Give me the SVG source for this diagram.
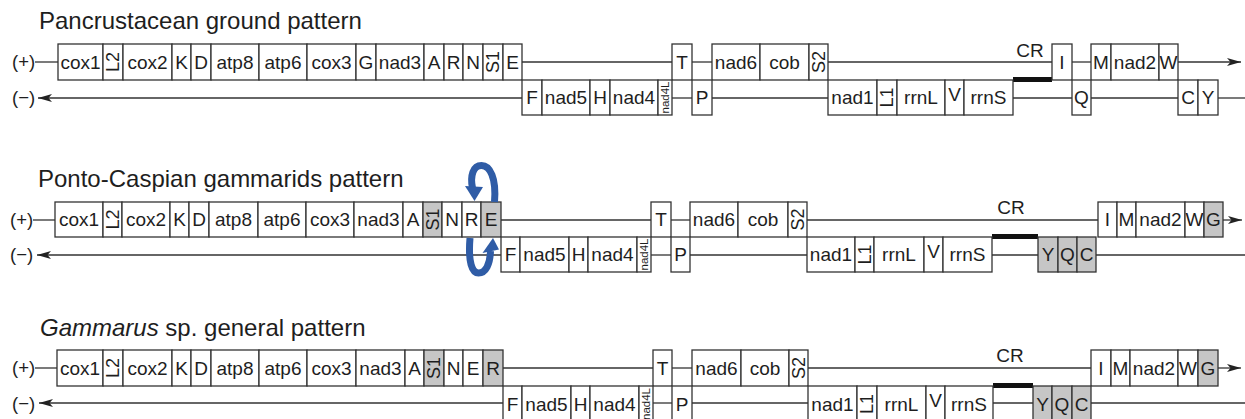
<svg xmlns="http://www.w3.org/2000/svg" width="1245" height="419" viewBox="0 0 1245 419">
<style>
.box{fill:#fff;stroke:#333;stroke-width:1.3}
.gray{fill:#c6c6c6}
.t{font-family:"Liberation Sans",Arial,sans-serif;font-size:19px;fill:#1e1e1e;text-anchor:middle}
.rot{font-size:18px}
.tiny{font-size:11.5px}
.title{font-family:"Liberation Sans",Arial,sans-serif;font-size:24px;fill:#1e1e1e}
.strand{font-family:"Liberation Sans",Arial,sans-serif;font-size:18.5px;fill:#1e1e1e}
.ln{stroke:#333;stroke-width:1.3;fill:none}
.arr{marker-end:url(#ah)}
.cr{stroke:#111;stroke-width:5;fill:none}
.blue{stroke:#2f5ca6;stroke-width:7;fill:none}
.bluehead{fill:#2f5ca6}
</style>
<defs>
<marker id="ah" markerUnits="userSpaceOnUse" markerWidth="15" markerHeight="10" refX="14" refY="5" orient="auto">
<path d="M0,1 L14,5 L0,9 L3.5,5 z" fill="#222"/>
</marker>
</defs>

<!-- Titles -->
<text class="title" x="39" y="29">Pancrustacean ground pattern</text>
<text class="title" x="38" y="187">Ponto-Caspian gammarids pattern</text>
<text class="title" x="40" y="336"><tspan font-style="italic">Gammarus</tspan> sp. general pattern</text>

<!-- Strand labels -->
<g id="strand-labels">
<text class="strand" x="12" y="68">(+)</text>
<text class="strand" x="12" y="104">(−)</text>
<text class="strand" x="10" y="226">(+)</text>
<text class="strand" x="10" y="261">(−)</text>
<text class="strand" x="12" y="374">(+)</text>
<text class="strand" x="12" y="410">(−)</text>
</g>

<!-- Connectors -->
<g id="connectors">
<!-- row 1 -->
<line class="ln" x1="35" y1="62" x2="58" y2="62"/>
<line class="ln" x1="522" y1="62" x2="672" y2="62"/>
<line class="ln" x1="692" y1="62" x2="712" y2="62"/>
<line class="ln" x1="828" y1="62" x2="1052" y2="62"/>
<line class="ln" x1="1072" y1="62" x2="1091" y2="62"/>
<line class="ln arr" x1="1178" y1="62" x2="1241" y2="62"/>
<line class="ln arr" x1="522" y1="98" x2="38" y2="98"/>
<line class="ln" x1="672" y1="98" x2="692" y2="98"/>
<line class="ln" x1="712" y1="98" x2="828" y2="98"/>
<line class="ln" x1="1013" y1="98" x2="1072" y2="98"/>
<line class="ln" x1="1091" y1="98" x2="1178" y2="98"/>
<line class="ln" x1="1218" y1="98" x2="1245" y2="98"/>
<line class="cr" x1="1013" y1="79.5" x2="1052" y2="79.5"/>
<!-- row 2 -->
<line class="ln" x1="33" y1="220" x2="55" y2="220"/>
<line class="ln" x1="501" y1="220" x2="651" y2="220"/>
<line class="ln" x1="671" y1="220" x2="690" y2="220"/>
<line class="ln" x1="807" y1="220" x2="1098" y2="220"/>
<line class="ln arr" x1="1223" y1="220" x2="1242" y2="220"/>
<line class="ln arr" x1="501" y1="255" x2="37" y2="255"/>
<line class="ln" x1="651" y1="255" x2="671" y2="255"/>
<line class="ln" x1="690" y1="255" x2="807" y2="255"/>
<line class="ln" x1="992" y1="255" x2="1038" y2="255"/>
<line class="ln" x1="1096" y1="255" x2="1245" y2="255"/>
<line class="cr" x1="992" y1="236.5" x2="1038" y2="236.5"/>
<!-- row 3 -->
<line class="ln" x1="35" y1="368" x2="57" y2="368"/>
<line class="ln" x1="503" y1="368" x2="653" y2="368"/>
<line class="ln" x1="672" y1="368" x2="692" y2="368"/>
<line class="ln" x1="808" y1="368" x2="1091" y2="368"/>
<line class="ln arr" x1="1218" y1="368" x2="1241" y2="368"/>
<line class="ln arr" x1="503" y1="403" x2="39" y2="403"/>
<line class="ln" x1="653" y1="403" x2="672" y2="403"/>
<line class="ln" x1="692" y1="403" x2="808" y2="403"/>
<line class="ln" x1="993" y1="403" x2="1033" y2="403"/>
<line class="ln" x1="1091" y1="403" x2="1245" y2="403"/>
<line class="cr" x1="993" y1="385.5" x2="1033" y2="385.5"/>
</g>

<!-- CR labels -->
<text class="t" x="1030" y="57">CR</text>
<text class="t" x="1011" y="214">CR</text>
<text class="t" x="1010" y="362">CR</text>

<!-- Row 1: Pancrustacean ground pattern -->
<g id="row1">
<g id="r1-cox1"><rect class="box" x="58" y="44" width="45" height="36"/><text class="t" x="80.5" y="68.7">cox1</text></g>
<g id="r1-L2"><rect class="box" x="103" y="44" width="20" height="36"/><text class="t rot" transform="translate(113,62) rotate(-90)" dy="0.36em">L2</text></g>
<g id="r1-cox2"><rect class="box" x="123" y="44" width="49" height="36"/><text class="t" x="147.5" y="68.7">cox2</text></g>
<g id="r1-K"><rect class="box" x="172" y="44" width="19" height="36"/><text class="t" x="181.5" y="68.7">K</text></g>
<g id="r1-D"><rect class="box" x="191" y="44" width="20" height="36"/><text class="t" x="201" y="68.7">D</text></g>
<g id="r1-atp8"><rect class="box" x="211" y="44" width="48" height="36"/><text class="t" x="235" y="68.7">atp8</text></g>
<g id="r1-atp6"><rect class="box" x="259" y="44" width="48" height="36"/><text class="t" x="283" y="68.7">atp6</text></g>
<g id="r1-cox3"><rect class="box" x="307" y="44" width="49" height="36"/><text class="t" x="331.5" y="68.7">cox3</text></g>
<g id="r1-G"><rect class="box" x="356" y="44" width="20" height="36"/><text class="t" x="366" y="68.7">G</text></g>
<g id="r1-nad3"><rect class="box" x="376" y="44" width="48" height="36"/><text class="t" x="400" y="68.7">nad3</text></g>
<g id="r1-A"><rect class="box" x="424" y="44" width="20" height="36"/><text class="t" x="434" y="68.7">A</text></g>
<g id="r1-R"><rect class="box" x="444" y="44" width="19" height="36"/><text class="t" x="453.5" y="68.7">R</text></g>
<g id="r1-N"><rect class="box" x="463" y="44" width="20" height="36"/><text class="t" x="473" y="68.7">N</text></g>
<g id="r1-S1"><rect class="box" x="483" y="44" width="20" height="36"/><text class="t rot" transform="translate(493,62) rotate(-90)" dy="0.36em">S1</text></g>
<g id="r1-E"><rect class="box" x="503" y="44" width="19" height="36"/><text class="t" x="512.5" y="68.7">E</text></g>
<g id="r1-T"><rect class="box" x="672" y="44" width="20" height="36"/><text class="t" x="682" y="68.7">T</text></g>
<g id="r1-nad6"><rect class="box" x="712" y="44" width="48" height="36"/><text class="t" x="736" y="68.7">nad6</text></g>
<g id="r1-cob"><rect class="box" x="760" y="44" width="49" height="36"/><text class="t" x="784.5" y="68.7">cob</text></g>
<g id="r1-S2"><rect class="box" x="809" y="44" width="19" height="36"/><text class="t rot" transform="translate(818.5,62) rotate(-90)" dy="0.36em">S2</text></g>
<g id="r1-I"><rect class="box" x="1052" y="44" width="20" height="36"/><text class="t" x="1062" y="68.7">I</text></g>
<g id="r1-M"><rect class="box" x="1091" y="44" width="20" height="36"/><text class="t" x="1101" y="68.7">M</text></g>
<g id="r1-nad2"><rect class="box" x="1111" y="44" width="48" height="36"/><text class="t" x="1135" y="68.7">nad2</text></g>
<g id="r1-W"><rect class="box" x="1159" y="44" width="19" height="36"/><text class="t" x="1168.5" y="68.7">W</text></g>
<g id="r1-F"><rect class="box" x="522" y="80" width="20" height="35"/><text class="t" x="532" y="104.2">F</text></g>
<g id="r1-nad5"><rect class="box" x="542" y="80" width="48" height="35"/><text class="t" x="566" y="104.2">nad5</text></g>
<g id="r1-H"><rect class="box" x="590" y="80" width="20" height="35"/><text class="t" x="600" y="104.2">H</text></g>
<g id="r1-nad4"><rect class="box" x="610" y="80" width="48" height="35"/><text class="t" x="634" y="104.2">nad4</text></g>
<g id="r1-nad4L"><rect class="box" x="658" y="80" width="14" height="35"/><text class="t tiny" transform="translate(665,97.5) rotate(-90)" dy="0.36em">nad4L</text></g>
<g id="r1-P"><rect class="box" x="692" y="80" width="20" height="35"/><text class="t" x="702" y="104.2">P</text></g>
<g id="r1-nad1"><rect class="box" x="828" y="80" width="49" height="35"/><text class="t" x="852.5" y="104.2">nad1</text></g>
<g id="r1-L1"><rect class="box" x="877" y="80" width="20" height="35"/><text class="t rot" transform="translate(887,97.5) rotate(-90)" dy="0.36em">L1</text></g>
<g id="r1-rrnL"><rect class="box" x="897" y="80" width="48" height="35"/><text class="t" x="921" y="104.2">rrnL</text></g>
<g id="r1-V"><rect class="box" x="945" y="80" width="19" height="35"/><text class="t" x="954.5" y="100.5">V</text></g>
<g id="r1-rrnS"><rect class="box" x="964" y="80" width="49" height="35"/><text class="t" x="988.5" y="104.2">rrnS</text></g>
<g id="r1-Q"><rect class="box" x="1072" y="80" width="19" height="35"/><text class="t" x="1081.5" y="104.2">Q</text></g>
<g id="r1-C"><rect class="box" x="1178" y="80" width="20" height="35"/><text class="t" x="1188" y="104.2">C</text></g>
<g id="r1-Y"><rect class="box" x="1198" y="80" width="20" height="35"/><text class="t" x="1208" y="104.2">Y</text></g>
</g>

<!-- Row 2: Ponto-Caspian gammarids pattern -->
<g id="row2">
<g id="r2-cox1"><rect class="box" x="55" y="202" width="48" height="35"/><text class="t" x="79" y="226.2">cox1</text></g>
<g id="r2-L2"><rect class="box" x="103" y="202" width="19" height="35"/><text class="t rot" transform="translate(112.5,219.5) rotate(-90)" dy="0.36em">L2</text></g>
<g id="r2-cox2"><rect class="box" x="122" y="202" width="48" height="35"/><text class="t" x="146" y="226.2">cox2</text></g>
<g id="r2-K"><rect class="box" x="170" y="202" width="19" height="35"/><text class="t" x="179.5" y="226.2">K</text></g>
<g id="r2-D"><rect class="box" x="189" y="202" width="20" height="35"/><text class="t" x="199" y="226.2">D</text></g>
<g id="r2-atp8"><rect class="box" x="209" y="202" width="49" height="35"/><text class="t" x="233.5" y="226.2">atp8</text></g>
<g id="r2-atp6"><rect class="box" x="258" y="202" width="48" height="35"/><text class="t" x="282" y="226.2">atp6</text></g>
<g id="r2-cox3"><rect class="box" x="306" y="202" width="48" height="35"/><text class="t" x="330" y="226.2">cox3</text></g>
<g id="r2-nad3"><rect class="box" x="354" y="202" width="49" height="35"/><text class="t" x="378.5" y="226.2">nad3</text></g>
<g id="r2-A"><rect class="box" x="403" y="202" width="20" height="35"/><text class="t" x="413" y="226.2">A</text></g>
<g id="r2-S1"><rect class="box gray" x="423" y="202" width="19" height="35"/><text class="t rot" transform="translate(432.5,219.5) rotate(-90)" dy="0.36em">S1</text></g>
<g id="r2-N"><rect class="box" x="442" y="202" width="20" height="35"/><text class="t" x="452" y="226.2">N</text></g>
<g id="r2-R"><rect class="box" x="462" y="202" width="19" height="35"/><text class="t" x="471.5" y="226.2">R</text></g>
<g id="r2-E"><rect class="box gray" x="481" y="202" width="20" height="35"/><text class="t" x="491" y="226.2">E</text></g>
<g id="r2-T"><rect class="box" x="651" y="202" width="20" height="35"/><text class="t" x="661" y="226.2">T</text></g>
<g id="r2-nad6"><rect class="box" x="690" y="202" width="48" height="35"/><text class="t" x="714" y="226.2">nad6</text></g>
<g id="r2-cob"><rect class="box" x="738" y="202" width="50" height="35"/><text class="t" x="763" y="226.2">cob</text></g>
<g id="r2-S2"><rect class="box" x="788" y="202" width="19" height="35"/><text class="t rot" transform="translate(797.5,219.5) rotate(-90)" dy="0.36em">S2</text></g>
<g id="r2-I"><rect class="box" x="1098" y="202" width="19" height="35"/><text class="t" x="1107.5" y="226.2">I</text></g>
<g id="r2-M"><rect class="box" x="1117" y="202" width="19" height="35"/><text class="t" x="1126.5" y="226.2">M</text></g>
<g id="r2-nad2"><rect class="box" x="1136" y="202" width="49" height="35"/><text class="t" x="1160.5" y="226.2">nad2</text></g>
<g id="r2-W"><rect class="box" x="1185" y="202" width="19" height="35"/><text class="t" x="1194.5" y="226.2">W</text></g>
<g id="r2-G"><rect class="box gray" x="1204" y="202" width="19" height="35"/><text class="t" x="1213.5" y="226.2">G</text></g>
<g id="r2-F"><rect class="box" x="501" y="237" width="19" height="35"/><text class="t" x="510.5" y="261.2">F</text></g>
<g id="r2-nad5"><rect class="box" x="520" y="237" width="49" height="35"/><text class="t" x="544.5" y="261.2">nad5</text></g>
<g id="r2-H"><rect class="box" x="569" y="237" width="19" height="35"/><text class="t" x="578.5" y="261.2">H</text></g>
<g id="r2-nad4"><rect class="box" x="588" y="237" width="49" height="35"/><text class="t" x="612.5" y="261.2">nad4</text></g>
<g id="r2-nad4L"><rect class="box" x="637" y="237" width="14" height="35"/><text class="t tiny" transform="translate(644,254.5) rotate(-90)" dy="0.36em">nad4L</text></g>
<g id="r2-P"><rect class="box" x="671" y="237" width="19" height="35"/><text class="t" x="680.5" y="261.2">P</text></g>
<g id="r2-nad1"><rect class="box" x="807" y="237" width="48" height="35"/><text class="t" x="831" y="261.2">nad1</text></g>
<g id="r2-L1"><rect class="box" x="855" y="237" width="19" height="35"/><text class="t rot" transform="translate(864.5,254.5) rotate(-90)" dy="0.36em">L1</text></g>
<g id="r2-rrnL"><rect class="box" x="874" y="237" width="50" height="35"/><text class="t" x="899" y="261.2">rrnL</text></g>
<g id="r2-V"><rect class="box" x="924" y="237" width="19" height="35"/><text class="t" x="933.5" y="257.5">V</text></g>
<g id="r2-rrnS"><rect class="box" x="943" y="237" width="49" height="35"/><text class="t" x="967.5" y="261.2">rrnS</text></g>
<g id="r2-Y"><rect class="box gray" x="1038" y="237" width="20" height="35"/><text class="t" x="1048" y="261.2">Y</text></g>
<g id="r2-Q"><rect class="box gray" x="1058" y="237" width="19" height="35"/><text class="t" x="1067.5" y="261.2">Q</text></g>
<g id="r2-C"><rect class="box gray" x="1077" y="237" width="19" height="35"/><text class="t" x="1086.5" y="261.2">C</text></g>
</g>

<!-- R/E swap arrows -->
<g id="swap-arrows">
<path class="blue" d="M494.5,202 C496.5,178 490,165.5 481.5,165.5 C473,165.5 470,176 472.5,188"/>
<polygon class="bluehead" points="465,186 483,187 474.5,201"/>
<path class="blue" d="M470,238 C468,262 472,273 478.5,273 C486,273 490,264 490.5,251"/>
<polygon class="bluehead" points="482.5,253 499,249.5 493,238"/>
</g>

<!-- Row 3: Gammarus sp. general pattern -->
<g id="row3">
<g id="r3-cox1"><rect class="box" x="57" y="350" width="46" height="36"/><text class="t" x="80" y="374.7">cox1</text></g>
<g id="r3-L2"><rect class="box" x="103" y="350" width="20" height="36"/><text class="t rot" transform="translate(113,368) rotate(-90)" dy="0.36em">L2</text></g>
<g id="r3-cox2"><rect class="box" x="123" y="350" width="49" height="36"/><text class="t" x="147.5" y="374.7">cox2</text></g>
<g id="r3-K"><rect class="box" x="172" y="350" width="19" height="36"/><text class="t" x="181.5" y="374.7">K</text></g>
<g id="r3-D"><rect class="box" x="191" y="350" width="20" height="36"/><text class="t" x="201" y="374.7">D</text></g>
<g id="r3-atp8"><rect class="box" x="211" y="350" width="48" height="36"/><text class="t" x="235" y="374.7">atp8</text></g>
<g id="r3-atp6"><rect class="box" x="259" y="350" width="48" height="36"/><text class="t" x="283" y="374.7">atp6</text></g>
<g id="r3-cox3"><rect class="box" x="307" y="350" width="49" height="36"/><text class="t" x="331.5" y="374.7">cox3</text></g>
<g id="r3-nad3"><rect class="box" x="356" y="350" width="49" height="36"/><text class="t" x="380.5" y="374.7">nad3</text></g>
<g id="r3-A"><rect class="box" x="405" y="350" width="19" height="36"/><text class="t" x="414.5" y="374.7">A</text></g>
<g id="r3-S1"><rect class="box gray" x="424" y="350" width="20" height="36"/><text class="t rot" transform="translate(434,368) rotate(-90)" dy="0.36em">S1</text></g>
<g id="r3-N"><rect class="box" x="444" y="350" width="19" height="36"/><text class="t" x="453.5" y="374.7">N</text></g>
<g id="r3-E"><rect class="box" x="463" y="350" width="20" height="36"/><text class="t" x="473" y="374.7">E</text></g>
<g id="r3-R"><rect class="box gray" x="483" y="350" width="20" height="36"/><text class="t" x="493" y="374.7">R</text></g>
<g id="r3-T"><rect class="box" x="653" y="350" width="19" height="36"/><text class="t" x="662.5" y="374.7">T</text></g>
<g id="r3-nad6"><rect class="box" x="692" y="350" width="49" height="36"/><text class="t" x="716.5" y="374.7">nad6</text></g>
<g id="r3-cob"><rect class="box" x="741" y="350" width="48" height="36"/><text class="t" x="765" y="374.7">cob</text></g>
<g id="r3-S2"><rect class="box" x="789" y="350" width="19" height="36"/><text class="t rot" transform="translate(798.5,368) rotate(-90)" dy="0.36em">S2</text></g>
<g id="r3-I"><rect class="box" x="1091" y="350" width="20" height="36"/><text class="t" x="1101" y="374.7">I</text></g>
<g id="r3-M"><rect class="box" x="1111" y="350" width="19" height="36"/><text class="t" x="1120.5" y="374.7">M</text></g>
<g id="r3-nad2"><rect class="box" x="1130" y="350" width="48" height="36"/><text class="t" x="1154" y="374.7">nad2</text></g>
<g id="r3-W"><rect class="box" x="1178" y="350" width="20" height="36"/><text class="t" x="1188" y="374.7">W</text></g>
<g id="r3-G"><rect class="box gray" x="1198" y="350" width="20" height="36"/><text class="t" x="1208" y="374.7">G</text></g>
<g id="r3-F"><rect class="box" x="503" y="386" width="19" height="36"/><text class="t" x="512.5" y="410.7">F</text></g>
<g id="r3-nad5"><rect class="box" x="522" y="386" width="49" height="36"/><text class="t" x="546.5" y="410.7">nad5</text></g>
<g id="r3-H"><rect class="box" x="571" y="386" width="19" height="36"/><text class="t" x="580.5" y="410.7">H</text></g>
<g id="r3-nad4"><rect class="box" x="590" y="386" width="49" height="36"/><text class="t" x="614.5" y="410.7">nad4</text></g>
<g id="r3-nad4L"><rect class="box" x="639" y="386" width="14" height="36"/><text class="t tiny" transform="translate(646,404) rotate(-90)" dy="0.36em">nad4L</text></g>
<g id="r3-P"><rect class="box" x="672" y="386" width="20" height="36"/><text class="t" x="682" y="410.7">P</text></g>
<g id="r3-nad1"><rect class="box" x="808" y="386" width="49" height="36"/><text class="t" x="832.5" y="410.7">nad1</text></g>
<g id="r3-L1"><rect class="box" x="857" y="386" width="20" height="36"/><text class="t rot" transform="translate(867,404) rotate(-90)" dy="0.36em">L1</text></g>
<g id="r3-rrnL"><rect class="box" x="877" y="386" width="49" height="36"/><text class="t" x="901.5" y="410.7">rrnL</text></g>
<g id="r3-V"><rect class="box" x="926" y="386" width="19" height="36"/><text class="t" x="935.5" y="407">V</text></g>
<g id="r3-rrnS"><rect class="box" x="945" y="386" width="48" height="36"/><text class="t" x="969" y="410.7">rrnS</text></g>
<g id="r3-Y"><rect class="box gray" x="1033" y="386" width="19" height="36"/><text class="t" x="1042.5" y="410.7">Y</text></g>
<g id="r3-Q"><rect class="box gray" x="1052" y="386" width="20" height="36"/><text class="t" x="1062" y="410.7">Q</text></g>
<g id="r3-C"><rect class="box gray" x="1072" y="386" width="19" height="36"/><text class="t" x="1081.5" y="410.7">C</text></g>
</g>
</svg>
